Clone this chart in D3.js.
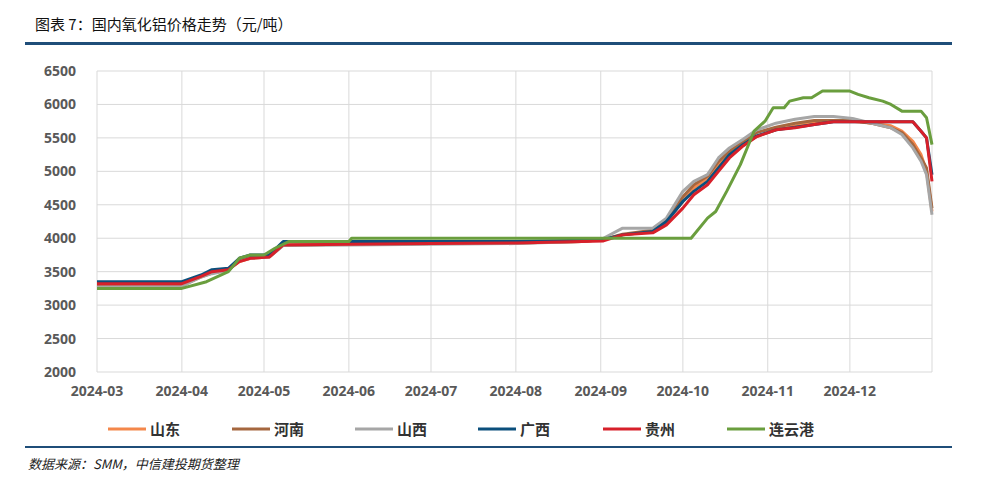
<!DOCTYPE html>
<html><head><meta charset="utf-8">
<script src="https://cdn.jsdelivr.net/npm/d3@7"></script>
<style>body{margin:0;background:#fff;font-family:"Noto Sans CJK SC","Noto Sans",sans-serif}</style>
</head><body><svg id="c" width="992" height="488"></svg>
<script>
const dates = ["2024-03-01","2024-04-01","2024-04-08","2024-04-12","2024-04-18","2024-04-22","2024-04-26","2024-05-03","2024-05-08","2024-06-01","2024-07-01","2024-08-01","2024-08-25","2024-09-02","2024-09-09","2024-09-20","2024-09-25","2024-10-01","2024-10-05","2024-10-10","2024-10-14","2024-10-18","2024-10-23","2024-10-28","2024-11-04","2024-11-11","2024-11-18","2024-11-25","2024-12-02","2024-12-09","2024-12-16","2024-12-20","2024-12-24","2024-12-27","2024-12-29","2024-12-31"];
const shandong = [3300,3300,3420,3480,3530,3650,3700,3720,3900,3910,3920,3930,3950,3980,4050,4100,4250,4550,4750,4900,5100,5250,5400,5520,5620,5680,5740,5750,5750,5720,5680,5600,5450,5250,5000,4400];
const henan = [3280,3290,3430,3480,3530,3680,3710,3730,3900,3910,3920,3930,3950,3980,4060,4120,4280,4620,4800,4930,5150,5300,5450,5580,5660,5720,5760,5760,5760,5720,5650,5580,5400,5200,5050,4450];
const shanxi = [3270,3280,3420,3470,3520,3670,3700,3720,3890,3900,3910,3920,3950,4000,4150,4150,4300,4700,4850,4950,5200,5350,5480,5620,5720,5780,5820,5820,5790,5720,5650,5550,5350,5150,4950,4350];
const guangxi = [3350,3350,3450,3530,3550,3700,3750,3750,3950,3950,3950,3950,3970,3980,4050,4100,4250,4550,4700,4850,5050,5250,5400,5530,5620,5660,5700,5740,5740,5740,5740,5740,5740,5600,5500,4950];
const guizhou = [3320,3320,3430,3500,3530,3650,3700,3720,3900,3910,3920,3930,3950,3960,4050,4080,4200,4450,4650,4800,5000,5200,5380,5520,5620,5650,5700,5740,5740,5740,5740,5740,5740,5600,5500,4850];
const lygDates = ["2024-03-01","2024-04-01","2024-04-10","2024-04-18","2024-04-22","2024-04-26","2024-05-01","2024-05-05","2024-05-10","2024-06-01","2024-06-02","2024-10-04","2024-10-10","2024-10-13","2024-10-17","2024-10-22","2024-10-27","2024-10-31","2024-11-03","2024-11-07","2024-11-09","2024-11-14","2024-11-17","2024-11-21","2024-12-01","2024-12-04","2024-12-08","2024-12-13","2024-12-16","2024-12-20","2024-12-27","2024-12-29","2024-12-31"];
const lianyungang = [3250,3250,3350,3500,3700,3750,3750,3850,3950,3950,4000,4000,4300,4400,4700,5100,5600,5750,5950,5950,6050,6100,6100,6200,6200,6150,6100,6050,6000,5900,5900,5800,5400];
const yTicks = [2000,2500,3000,3500,4000,4500,5000,5500,6000,6500];
const xTicks = ["2024-03-01","2024-04-01","2024-05-01","2024-06-01","2024-07-01","2024-08-01","2024-09-01","2024-10-01","2024-11-01","2024-12-01","2024-12-31"];
const xLabels = ["2024-03","2024-04","2024-05","2024-06","2024-07","2024-08","2024-09","2024-10","2024-11","2024-12",""];

const p = d3.timeParse("%Y-%m-%d");
const series = [
  {name:"山东", color:"#F4874B", v:shandong, d:dates},
  {name:"河南", color:"#A5673F", v:henan, d:dates},
  {name:"山西", color:"#A6A6A6", v:shanxi, d:dates},
  {name:"广西", color:"#0B4F7C", v:guangxi, d:dates},
  {name:"贵州", color:"#D7202A", v:guizhou, d:dates},
  {name:"连云港", color:"#6A9E3E", v:lianyungang, d:lygDates}
];
const svg = d3.select("#c");
const x = d3.scaleTime().domain([p("2024-03-01"), p("2024-12-31")]).range([97, 932]);
const y = d3.scaleLinear().domain([2000, 6500]).range([372, 71]);

svg.append("text").attr("x",35).attr("y",30).attr("font-size",15).attr("fill","#111").text("图表 7：国内氧化铝价格走势（元/吨）");
svg.append("rect").attr("x",25).attr("y",42).attr("width",927).attr("height",3).attr("fill","#1F4E79");
svg.append("rect").attr("x",25).attr("y",446).attr("width",927).attr("height",2).attr("fill","#1F4E79");
svg.append("text").attr("x",28).attr("y",469).attr("font-size",13).attr("font-style","italic").attr("fill","#222").text("数据来源：SMM，中信建投期货整理");

const g = svg.append("g");
g.selectAll(".hg").data(yTicks).join("line").attr("x1",97).attr("x2",932)
  .attr("y1",d=>y(d)).attr("y2",d=>y(d)).attr("stroke","#d9d9d9").attr("stroke-width",1);
g.selectAll(".vg").data(xTicks).join("line").attr("x1",d=>x(p(d))).attr("x2",d=>x(p(d)))
  .attr("y1",71).attr("y2",372).attr("stroke","#d9d9d9").attr("stroke-width",1);
g.selectAll(".yl").data(yTicks).join("text").attr("x",76).attr("y",d=>y(d)+5).attr("text-anchor","end")
  .attr("font-size",14).attr("font-weight","bold").attr("fill","#595959").attr("font-family","Open Sans,sans-serif").text(d=>d);
g.selectAll(".xl").data(xTicks).join("text").attr("x",d=>x(p(d))).attr("y",396).attr("text-anchor","middle")
  .attr("font-size",14).attr("font-weight","bold").attr("fill","#595959").attr("font-family","Open Sans,sans-serif").text((d,i)=>xLabels[i]);

const line = d3.line().x(d=>x(d[0])).y(d=>y(d[1]));
series.forEach(s=>{
  g.append("path").datum(s.d.map((d,i)=>[p(d), s.v[i]])).attr("d",line)
    .attr("fill","none").attr("stroke",s.color).attr("stroke-width",3).attr("stroke-linejoin","round");
});

const lg = svg.append("g");
const lx = [108, 232, 355, 478, 603, 727];
series.forEach((s,i)=>{
  lg.append("line").attr("x1",lx[i]).attr("x2",lx[i]+38).attr("y1",429).attr("y2",429).attr("stroke",s.color).attr("stroke-width",3);
  lg.append("text").attr("x",lx[i]+42).attr("y",435).attr("font-size",15).attr("font-weight","bold").attr("fill","#333").text(s.name);
});
</script></body></html>
